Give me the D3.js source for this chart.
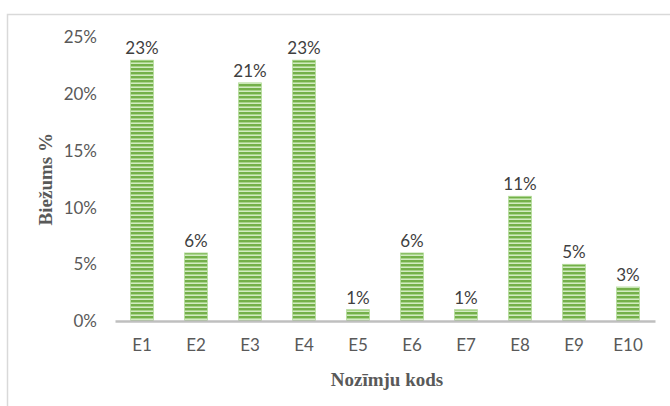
<!DOCTYPE html>
<html>
<head>
<meta charset="utf-8">
<script src="https://cdn.jsdelivr.net/npm/d3@7/dist/d3.min.js"></script>
<style>
  html, body { margin: 0; padding: 0; background: #fff; }
  svg { display: block; }
</style>
</head>
<body>
<svg id="chart" width="670" height="406"></svg>
<script>
// Frequency of each code, in percent
const categories = ["E1", "E2", "E3", "E4", "E5", "E6", "E7", "E8", "E9", "E10"];
const values = [23, 6, 21, 23, 1, 6, 1, 11, 5, 3];
const yTicks = [0, 5, 10, 15, 20, 25];
const yTitle = "Biežums %";
const xTitle = "Nozīmju kods";

const svg = d3.select("#chart");
const W = 670, H = 406;
const m = { left: 115, right: 15, top: 37.5, bottom: 85 };

// Chart frame
svg.append("rect")
  .attr("x", 7.5).attr("y", 14.5)
  .attr("width", 700).attr("height", 420)
  .attr("fill", "#fff")
  .attr("stroke", "#d9d9d9").attr("stroke-width", 1.5);

// Horizontal stripe fill for the bars
const defs = svg.append("defs");
const pat = defs.append("pattern")
  .attr("id", "stripes")
  .attr("patternUnits", "userSpaceOnUse")
  .attr("width", 8).attr("height", 4);
pat.append("rect").attr("x", 0).attr("y", 0).attr("width", 8).attr("height", 4).attr("fill", "#74b04a");
pat.append("rect").attr("x", 0).attr("y", 2).attr("width", 8).attr("height", 1).attr("fill", "#a8d48a");
pat.append("rect").attr("x", 0).attr("y", 3).attr("width", 8).attr("height", 1).attr("fill", "#d2eac2");

const x = d3.scaleBand()
  .domain(categories)
  .range([m.left, W - m.right])
  .paddingInner(0.575)
  .paddingOuter(0.2875);

const y = d3.scaleLinear()
  .domain([0, 25])
  .range([H - m.bottom, m.top]);

const labelFont = "Lato, 'Open Sans', 'Liberation Sans', sans-serif";

// Y axis tick labels
const yAxis = d3.axisLeft(y)
  .tickValues(yTicks)
  .tickFormat(d => d + "%")
  .tickSize(0)
  .tickPadding(18);
const gy = svg.append("g")
  .attr("transform", `translate(${m.left},0)`)
  .call(yAxis);
gy.select(".domain").remove();
gy.selectAll("text")
  .attr("font-family", labelFont)
  .attr("font-size", 17)
  .attr("fill", "#595959");

// Bars
svg.append("g").selectAll("rect")
  .data(values)
  .join("rect")
  .attr("x", (d, i) => x(categories[i]))
  .attr("y", d => y(d))
  .attr("width", x.bandwidth())
  .attr("height", d => y(0) - y(d))
  .attr("fill", "url(#stripes)")
  .attr("stroke", "#b5dc9c")
  .attr("stroke-width", 0.8);

// Value labels
svg.append("g").selectAll("text")
  .data(values)
  .join("text")
  .attr("x", (d, i) => x(categories[i]) + x.bandwidth() / 2)
  .attr("y", d => y(d) - 6)
  .attr("text-anchor", "middle")
  .attr("font-family", labelFont)
  .attr("font-size", 17)
  .attr("fill", "#404040")
  .text(d => d + "%");

// X axis
const xAxis = d3.axisBottom(x).tickSize(0).tickPadding(18);
const gx = svg.append("g")
  .attr("transform", `translate(0,${y(0)})`)
  .call(xAxis);
gx.select(".domain")
  .attr("stroke", "#bfbfbf")
  .attr("stroke-width", 2.5);
gx.selectAll("text")
  .attr("font-family", labelFont)
  .attr("font-size", 17)
  .attr("fill", "#595959");

// Axis titles
svg.append("text")
  .attr("x", (m.left + W - m.right) / 2 + 2)
  .attr("y", 386)
  .attr("text-anchor", "middle")
  .attr("font-family", "'Liberation Serif', 'Times New Roman', serif")
  .attr("font-weight", "bold")
  .attr("font-size", 19)
  .attr("fill", "#595959")
  .text(xTitle);

svg.append("text")
  .attr("transform", `translate(52,${(y(0) + y(25)) / 2}) rotate(-90)`)
  .attr("text-anchor", "middle")
  .attr("font-family", "'Liberation Serif', 'Times New Roman', serif")
  .attr("font-weight", "bold")
  .attr("font-size", 19)
  .attr("fill", "#595959")
  .text(yTitle);
</script>
</body>
</html>
